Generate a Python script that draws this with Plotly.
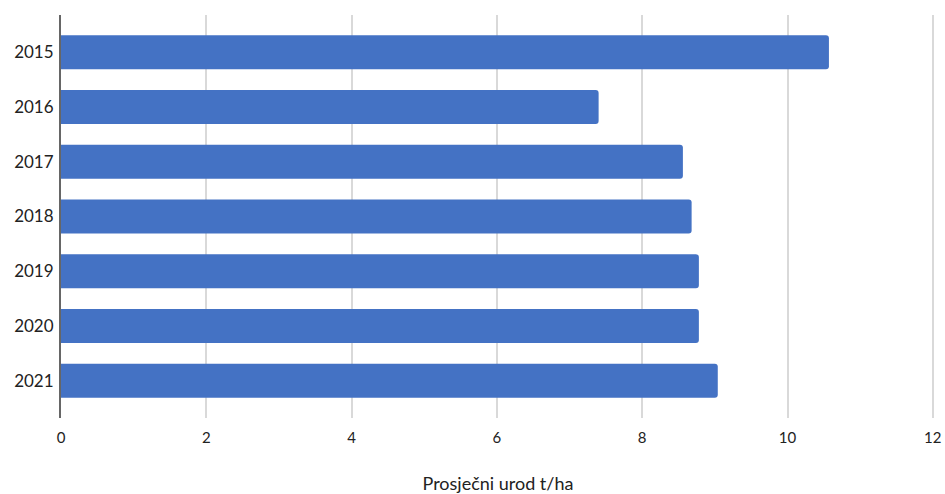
import plotly.graph_objects as go

years = ["2015", "2016", "2017", "2018", "2019", "2020", "2021"]
urod = [10.57, 7.40, 8.56, 8.68, 8.78, 8.78, 9.04]

fig = go.Figure(go.Bar(
    x=urod,
    y=years,
    orientation="h",
    marker=dict(color="#4472C4", cornerradius=3, line=dict(width=0)),
))

fig.update_layout(
    width=945,
    height=494,
    margin=dict(l=61, r=10, t=15, b=76),
    plot_bgcolor="white",
    paper_bgcolor="white",
    bargap=0.38,
    showlegend=False,
    font=dict(family="Lato, Open Sans, sans-serif", color="#222222"),
)

fig.update_xaxes(
    range=[0, 12.03],  # a hair past 12 so the last gridline is drawn
    tickvals=[0, 2, 4, 6, 8, 10, 12],
    automargin=False,
    showgrid=True,
    gridcolor="#d9d9d9",
    gridwidth=1.5,
    zeroline=False,
    showline=False,
    tickfont=dict(size=15, color="#222222"),
    ticks="outside",
    ticklen=6,
    tickcolor="rgba(0,0,0,0)",
    title=dict(text="Prosječni urod t/ha", font=dict(size=18, color="#222222"), standoff=34),
)

fig.update_yaxes(
    categoryorder="array",
    categoryarray=years,
    range=[6.68, -0.68],
    automargin=False,
    showline=True,
    linecolor="#666666",
    linewidth=2,
    showgrid=False,
    tickfont=dict(size=17, color="#222222"),
    ticks="outside",
    ticklen=2,
    tickcolor="rgba(0,0,0,0)",
)

# drop the default body margin so the figure fills the window exactly
fig.write_html(
    "out.html",
    config={"displayModeBar": False},
    post_script="document.body.style.margin='0';document.body.style.overflow='hidden';",
)
